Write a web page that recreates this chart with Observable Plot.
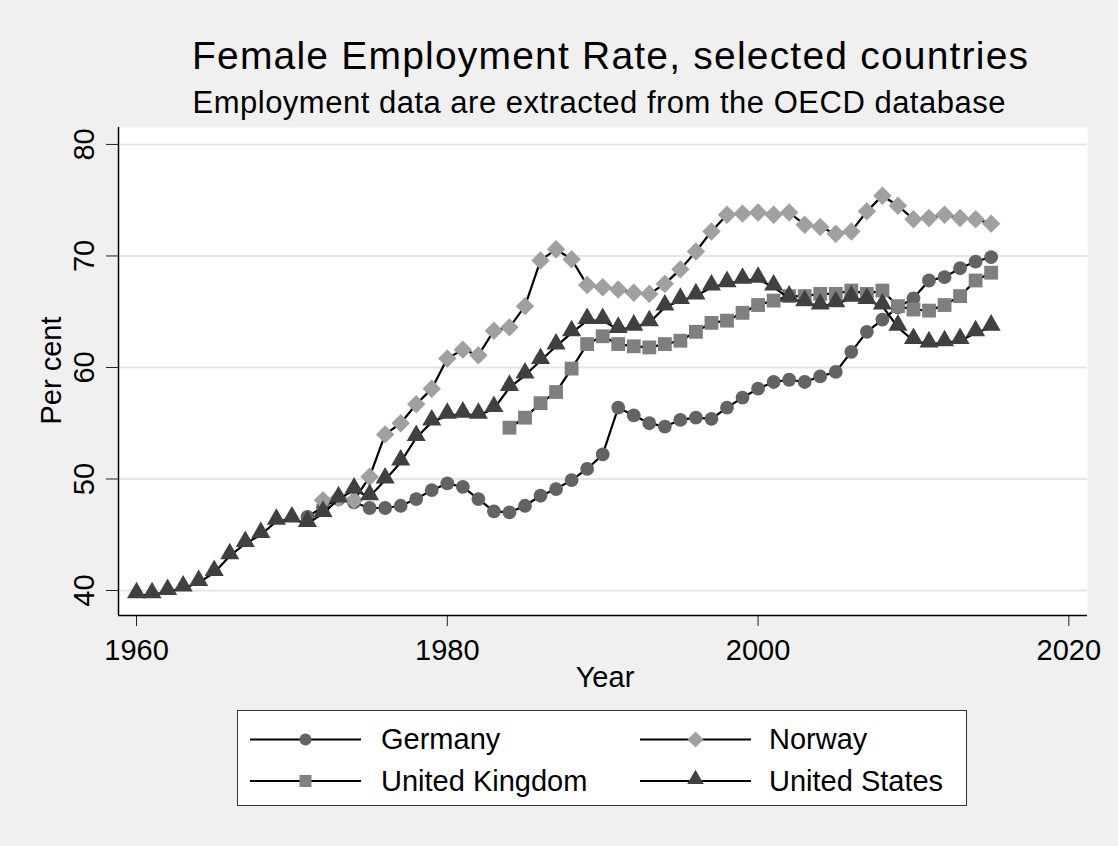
<!DOCTYPE html>
<html><head><meta charset="utf-8">
<script src="https://cdn.jsdelivr.net/npm/d3@7"></script>
<script src="https://cdn.jsdelivr.net/npm/@observablehq/plot@0.6"></script>
<style>
html,body{margin:0;padding:0;background:#f0f0f0;}
#wrap{position:relative;width:1118px;height:846px;overflow:hidden;font-family:"Liberation Sans",Arial,sans-serif;}
#chart,#overlay{position:absolute;left:0;top:0;}
</style></head>
<body><div id="wrap"><div id="chart"></div><svg id="overlay" width="1118" height="846"></svg></div>
<script>
// ---- data ----
const years = [1960,1961,1962,1963,1964,1965,1966,1967,1968,1969,
  1970,1971,1972,1973,1974,1975,1976,1977,1978,1979,
  1980,1981,1982,1983,1984,1985,1986,1987,1988,1989,
  1990,1991,1992,1993,1994,1995,1996,1997,1998,1999,
  2000,2001,2002,2003,2004,2005,2006,2007,2008,2009,
  2010,2011,2012,2013,2014,2015];
const countries = ["Germany", "Norway", "United Kingdom", "United States"];
const germany = [null,null,null,null,null,null,null,null,null,null,
  null,46.6,47.5,48.2,47.9,47.4,47.4,47.6,48.2,49.0,
  49.6,49.3,48.2,47.1,47.0,47.6,48.5,49.1,49.9,50.9,
  52.2,56.4,55.7,55.0,54.7,55.3,55.5,55.4,56.4,57.3,
  58.1,58.7,58.9,58.7,59.2,59.6,61.4,63.2,64.3,65.4,
  66.2,67.8,68.1,68.9,69.5,69.9];
const norway = [null,null,null,null,null,null,null,null,null,null,
  null,null,48.1,48.3,48.1,50.2,54.0,55.0,56.7,58.1,
  60.8,61.6,61.1,63.3,63.6,65.5,69.6,70.6,69.7,67.4,
  67.2,67.0,66.7,66.6,67.5,68.8,70.4,72.2,73.7,73.8,
  73.9,73.7,73.9,72.8,72.6,72.0,72.2,74.0,75.4,74.5,
  73.3,73.4,73.7,73.4,73.3,72.9];
const unitedKingdom = [null,null,null,null,null,null,null,null,null,null,
  null,null,null,null,null,null,null,null,null,null,
  null,null,null,null,54.6,55.5,56.8,57.8,59.9,62.1,
  62.8,62.1,61.9,61.8,62.1,62.4,63.2,64.0,64.2,64.9,
  65.6,66.0,66.4,66.4,66.6,66.6,66.9,66.6,66.9,65.5,
  65.2,65.1,65.6,66.4,67.8,68.5];
const unitedStates = [39.6,39.6,39.9,40.2,40.7,41.6,43.1,44.2,45.0,46.2,
  46.4,46.0,46.9,48.2,49.0,48.4,49.9,51.5,53.7,55.1,
  55.7,55.8,55.7,56.3,58.2,59.3,60.6,61.9,63.1,64.2,
  64.2,63.4,63.6,64.0,65.4,66.0,66.4,67.2,67.5,67.8,
  67.9,67.2,66.2,65.8,65.5,65.7,66.2,66.0,65.5,63.6,
  62.4,62.1,62.2,62.4,63.1,63.6];
const yTicks = [40, 50, 60, 70, 80];
const xTicks = [1960, 1980, 2000, 2020];
const titleText = "Female Employment Rate, selected countries";
const subtitleText = "Employment data are extracted from the OECD database";
const xLabel = "Year";
const yLabel = "Per cent";

// ---- styling ----
const seriesValues = [germany, norway, unitedKingdom, unitedStates];
const styles = [
  {symbol: "circle",   d3sym: d3.symbolCircle,   fill: "#636363", r: 6.9, dy: 0},
  {symbol: "diamond2", d3sym: d3.symbolDiamond2, fill: "#a0a0a0", r: 8.3, dy: 0},
  {symbol: "square",   d3sym: d3.symbolSquare,   fill: "#7f7f7f", r: 7.8, dy: 0},
  {symbol: "triangle", d3sym: d3.symbolTriangle, fill: "#404040", r: 7.1, dy: -2.2}
];
const xDomain = [1958.84, 2021.2];
const yDomain = [37.76, 81.52];

const marks = [
  Plot.frame({fill: "white", stroke: null}),
  Plot.gridY(yTicks, {stroke: "#e6e6e6", strokeOpacity: 1, strokeWidth: 2}),
  Plot.axisY({ticks: yTicks, tickSize: 12, tickPadding: 13, tickRotate: -90, fontSize: 29,
    label: null, tickFormat: d => String(d), stroke: "#222"}),
  Plot.axisX({ticks: xTicks, tickSize: 11, tickPadding: 13, fontSize: 29,
    label: null, tickFormat: d => String(d), stroke: "#222"}),
  Plot.ruleX([xDomain[0]], {stroke: "black", strokeWidth: 1.5}),
  Plot.ruleY([yDomain[0]], {stroke: "black", strokeWidth: 1.5})
];
countries.forEach((name, k) => {
  const rows = years.map((yr, i) => ({year: yr, value: seriesValues[k][i], country: name}))
    .filter(d => d.value != null);
  const s = styles[k];
  marks.push(Plot.line(rows, {x: "year", y: "value", stroke: "black", strokeWidth: 2.2}));
  marks.push(Plot.dot(rows, {x: "year", y: "value", symbol: s.symbol, r: s.r, fill: s.fill, stroke: null, dy: s.dy}));
});

const chart = Plot.plot({
  width: 1118, height: 846,
  marginLeft: 118, marginRight: 31, marginTop: 127, marginBottom: 231,
  x: {domain: xDomain}, y: {domain: yDomain},
  style: {background: "transparent", fontFamily: "'Liberation Sans', Arial, sans-serif", fontSize: "29px", color: "black", overflow: "visible"},
  marks
});
document.getElementById("chart").append(chart);

// ---- titles, axis titles, legend (overlay) ----
const ov = d3.select("#overlay").style("font-family", "'Liberation Sans', Arial, sans-serif");
ov.append("text").attr("x", 192).attr("y", 69).attr("font-size", 39).attr("letter-spacing", 1.2).text(titleText);
ov.append("text").attr("x", 192.5).attr("y", 112.7).attr("font-size", 31).attr("letter-spacing", 0.5).text(subtitleText);
ov.append("text").attr("x", 605).attr("y", 687).attr("font-size", 29).attr("text-anchor", "middle").text(xLabel);
ov.append("text").attr("transform", "translate(61,370.5) rotate(-90)").attr("font-size", 29).attr("text-anchor", "middle").text(yLabel);

ov.append("rect").attr("x", 237.5).attr("y", 710.5).attr("width", 729).attr("height", 95)
  .attr("fill", "white").attr("stroke", "#333").attr("stroke-width", 1);
const legendPos = [
  {lx: 250, ly: 739.5, tx: 381},
  {lx: 640, ly: 739.5, tx: 769},
  {lx: 250, ly: 781, tx: 381},
  {lx: 640, ly: 781, tx: 769}
];
countries.forEach((name, k) => {
  const p = legendPos[k], s = styles[k];
  ov.append("line").attr("x1", p.lx).attr("x2", p.lx + 111).attr("y1", p.ly).attr("y2", p.ly)
    .attr("stroke", "black").attr("stroke-width", 2);
  ov.append("path").attr("d", d3.symbol(s.d3sym, Math.PI * s.r * s.r * 0.75)())
    .attr("transform", `translate(${p.lx + 55.5},${p.ly + s.dy * 0.8})`).attr("fill", s.fill);
  ov.append("text").attr("x", p.tx).attr("y", p.ly + 9.5).attr("font-size", 29).text(name);
});
</script></body></html>
